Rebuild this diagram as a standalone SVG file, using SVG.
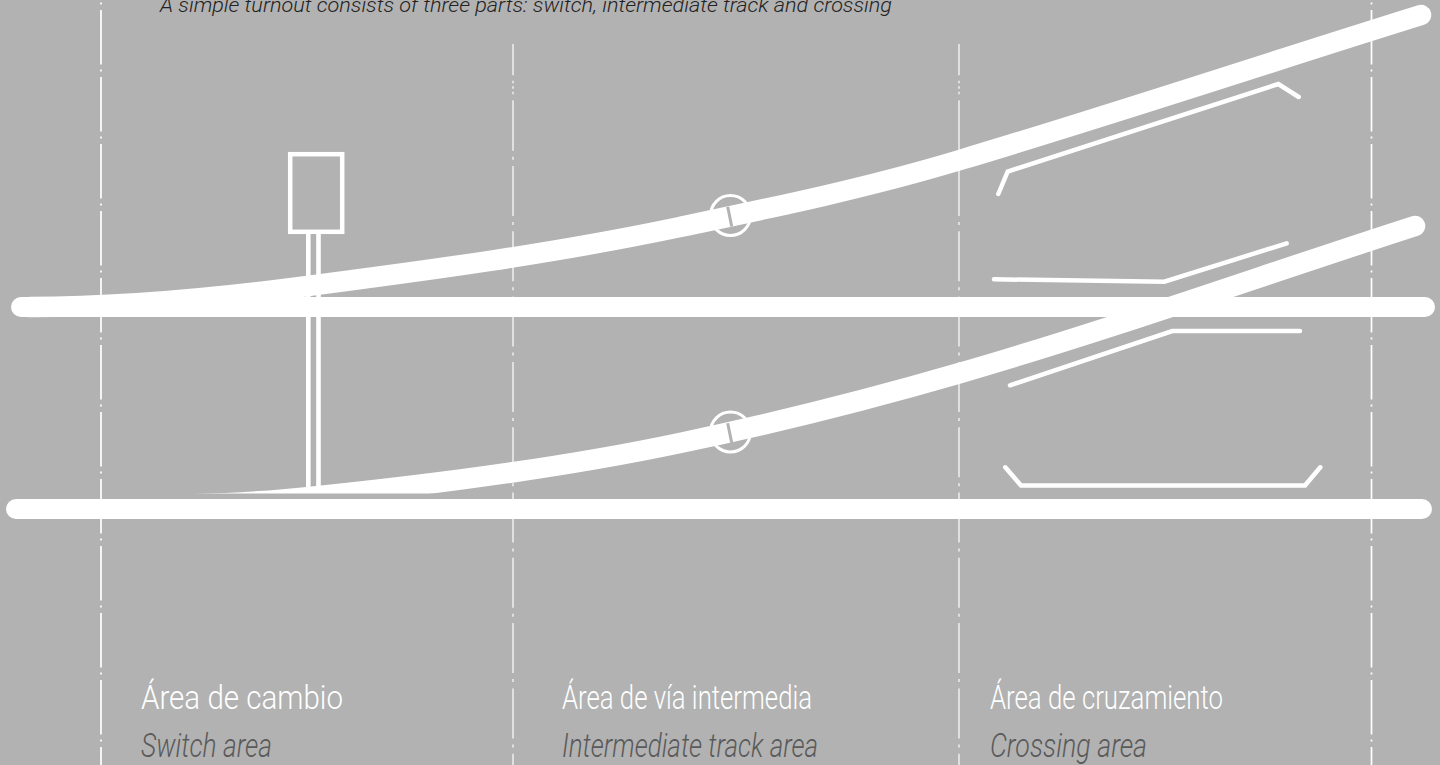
<svg xmlns="http://www.w3.org/2000/svg" width="1440" height="765" viewBox="0 0 1440 765">
<style>
.bg{fill:#b2b2b2}
.track{fill:none;stroke:#fff;stroke-width:20;stroke-linecap:round}
.curve{stroke-width:20.6}
.outer{fill:none;stroke:#fff;stroke-width:1.7;stroke-dasharray:54.5 5 2 5.5}
.mid{fill:none;stroke:#fff;stroke-width:1.2;stroke-dasharray:50 6 3 6.3}
.midhead{fill:none;stroke:#fff;stroke-width:1.2;stroke-dasharray:31.3 5.5 2.5 3 2.5 3 2.5 6}
.rail{fill:none;stroke:#fff;stroke-width:4.5;stroke-linecap:round;stroke-linejoin:miter}
.tick{fill:none;stroke:#b2b2b2;stroke-width:3}
.ring{fill:none;stroke:#fff;stroke-width:3}
text{font-family:"Roboto","Liberation Sans",sans-serif;font-weight:300}
.es{font-size:33px;fill:#fff}
.en{font-size:33px;fill:#5a5a5a;font-style:italic}
.top{font-size:21px;fill:#222;font-style:italic}
</style>
<defs>
<clipPath id="clipLow"><rect x="0" y="0" width="1440" height="493.5"/></clipPath>
</defs>
<rect class="bg" width="1440" height="765"/>
<g id="axes">
<line class="outer" x1="101" y1="-57" x2="101" y2="765"/>
<line class="outer" x1="1371.500" y1="-57" x2="1371.500" y2="765"/>
<line class="midhead" x1="513" y1="44" x2="513" y2="100.700"/>
<line class="mid" x1="513" y1="100.700" x2="513" y2="765"/>
<line class="midhead" x1="959" y1="44" x2="959" y2="100.700"/>
<line class="mid" x1="959" y1="100.700" x2="959" y2="765"/>
</g>
<g id="signal">
<rect x="290.200" y="154.200" width="52" height="77.600" fill="none" stroke="#fff" stroke-width="4.500"/>
<line x1="308.300" y1="234" x2="308.300" y2="490" stroke="#fff" stroke-width="4.600"/>
<line x1="318.500" y1="234" x2="318.500" y2="490" stroke="#fff" stroke-width="4.600"/>
</g>
<g id="rings">
<circle class="ring" cx="730.500" cy="215.500" r="20"/>
<circle class="ring" cx="730.500" cy="432" r="20"/>
</g>
<g id="tracks">
<line class="track" x1="21" y1="307" x2="1425" y2="307"/>
<line class="track" x1="16" y1="509" x2="1422" y2="509"/>
<path class="track curve" d="M30 307C120 307 210 298.700 300 287C427 270.500 553 253.700 680 227C773 207.500 867 188 960 160C1114 114 1267 63 1421 15"/>
<path class="track curve" clip-path="url(#clipLow)" d="M150 505C200 504.600 260 502.500 310 497C433 484.500 557 469 680 443C773 423.500 867 400 960 373C1112 329 1263 275 1415 226"/>
</g>
<g id="ticks">
<line class="tick" x1="727.700" y1="206.700" x2="731.700" y2="226.500"/>
<line class="tick" x1="727.700" y1="423.300" x2="731.700" y2="442.700"/>
</g>
<g id="rails">
<path class="rail" d="M998.300 194L1007.700 171.500L1278.300 84L1298.700 97"/>
<path class="rail" d="M994 279.300L1164.300 281.700L1286.700 243.300"/>
<path class="rail" d="M1010 385.300L1172.300 331L1300 331"/>
<path class="rail" d="M1005.300 467.300L1021 485.500L1305 485.500L1320.300 467.300"/>
</g>
<g id="labels">
<text class="top" x="160" y="12" textLength="732" lengthAdjust="spacingAndGlyphs">A simple turnout consists of three parts: switch, intermediate track and crossing</text>
<text class="es" x="141" y="709" textLength="202" lengthAdjust="spacingAndGlyphs">Área de cambio</text>
<text class="en" x="141" y="757" textLength="131" lengthAdjust="spacingAndGlyphs">Switch area</text>
<text class="es" x="562" y="709" textLength="250" lengthAdjust="spacingAndGlyphs">Área de vía intermedia</text>
<text class="en" x="562" y="757" textLength="256" lengthAdjust="spacingAndGlyphs">Intermediate track area</text>
<text class="es" x="990" y="709" textLength="233" lengthAdjust="spacingAndGlyphs">Área de cruzamiento</text>
<text class="en" x="990" y="757" textLength="157" lengthAdjust="spacingAndGlyphs">Crossing area</text>
</g>
</svg>
